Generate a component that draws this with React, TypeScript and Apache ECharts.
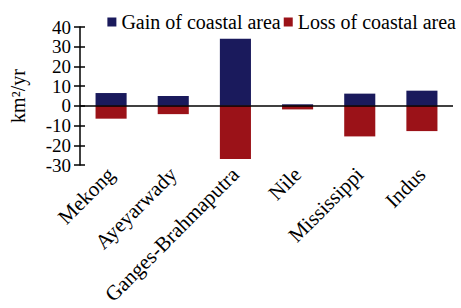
import React, { useEffect, useRef } from "react";
import * as echarts from "echarts";

const categories = ["Mekong", "Ayeyarwady", "Ganges-Brahmaputra", "Nile", "Mississippi", "Indus"];
const gainValues = [6.5, 5.0, 34.0, 0.8, 6.2, 7.7];
const lossValues = [-6.5, -4.2, -27.0, -1.8, -15.5, -12.8];
const yTickMin = -30;
const yTickMax = 40;
const yTickStep = 10;

const FONT = "Liberation Serif";

export default function App() {
  const ref = useRef<HTMLDivElement>(null);
  useEffect(() => {
    if (!ref.current) return;
    const chart = echarts.init(ref.current, null, { renderer: "svg" });
    chart.setOption({
      animation: false,
      backgroundColor: "#ffffff",
      textStyle: { fontFamily: FONT, color: "#000" },
      legend: {
        top: 7,
        right: 0,
        width: 400,
        itemWidth: 9,
        itemHeight: 9,
        itemGap: 3,
        icon: "rect",
        textStyle: { fontFamily: FONT, fontSize: 20, color: "#000" },
        data: ["Gain of coastal area", "Loss of coastal area"],
      },
      grid: { left: 77, right: 8, top: 27, bottom: 143, containLabel: false },
      xAxis: {
        type: "category",
        data: categories,
        axisLine: { show: false, onZero: false },
        axisTick: { show: false },
        axisLabel: {
          rotate: 45,
          margin: 6,
          interval: 0,
          fontFamily: FONT,
          fontSize: 21,
          color: "#000",
        },
      },
      yAxis: [
        {
          type: "value",
          min: yTickMin,
          max: yTickMax,
          interval: yTickStep,
          name: "km²/yr",
          nameLocation: "middle",
          nameGap: 52,
          nameRotate: 90,
          nameTextStyle: { fontFamily: FONT, fontSize: 20, color: "#000" },
          axisLine: { show: true, lineStyle: { color: "#000", width: 1.5 } },
          axisTick: { show: true, length: 6, lineStyle: { color: "#000", width: 1.5 } },
          axisLabel: {
            fontFamily: FONT,
            fontSize: 19,
            color: "#000",
            margin: 9,
            showMinLabel: true,
            showMaxLabel: true,
            lineHeight: 16,
          },
          splitLine: { show: false },
        },
        {
          type: "value",
          position: "left",
          min: yTickMin,
          max: yTickMax,
          interval: yTickStep,
          axisLine: { show: false },
          axisTick: { show: true, inside: true, length: 5, lineStyle: { color: "#000", width: 1.5 } },
          axisLabel: { show: false },
          splitLine: { show: false },
        },
      ],
      series: [
        {
          name: "Gain of coastal area",
          type: "bar",
          stack: "total",
          barWidth: "50%",
          data: gainValues,
          itemStyle: { color: "#1a1a5c" },
          markLine: {
            silent: true,
            symbol: "none",
            label: { show: false },
            lineStyle: { color: "#000", width: 1.5, type: "solid" },
            data: [{ yAxis: 0 }],
          },
        },
        {
          name: "Loss of coastal area",
          type: "bar",
          stack: "total",
          barWidth: "50%",
          data: lossValues,
          itemStyle: { color: "#9b1218" },
        },
      ],
    });
    return () => chart.dispose();
  }, []);
  return (
    <div
      ref={ref}
      style={{ position: "fixed", left: 0, top: 0, width: 461, height: 308 }}
    />
  );
}
